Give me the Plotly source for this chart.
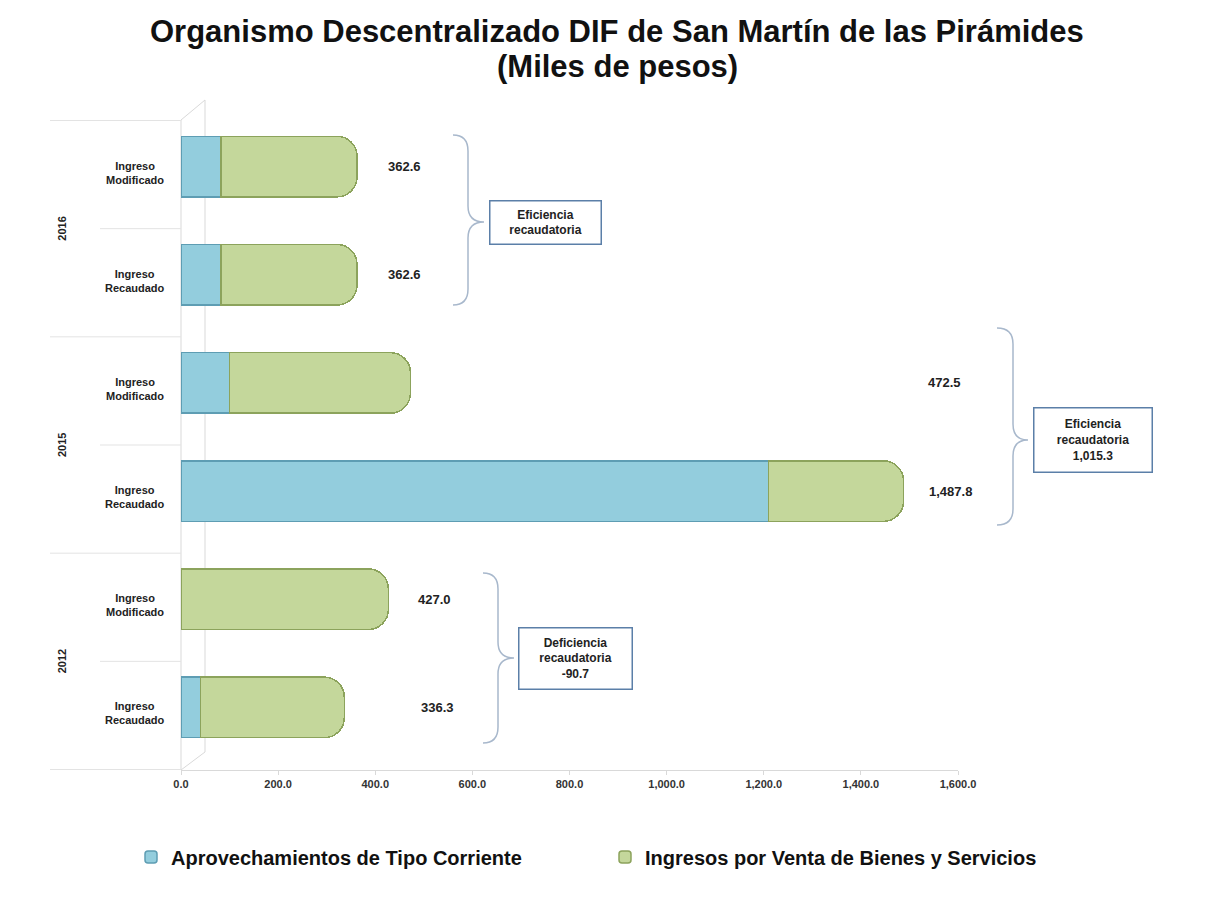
import plotly.graph_objects as go

# ── data ─────────────────────────────────────────────────────────────────────
TITLE = "Organismo Descentralizado DIF de San Martín de las Pirámides"
SUBTITLE = "(Miles de pesos)"

years = ["2016", "2016", "2015", "2015", "2012", "2012"]
ingreso = ["Ingreso Modificado", "Ingreso Recaudado"] * 3
aprovechamientos = [82.0, 82.0, 100.0, 1210.0, 0.0, 40.0]
ventas = [280.6, 280.6, 372.5, 277.8, 427.0, 296.3]
totales = ["362.6", "362.6", "472.5", "1,487.8", "427.0", "336.3"]

group_years = ["2016", "2015", "2012"]
group_text = [
    "Eficiencia<br>recaudatoria",
    "Eficiencia<br>recaudatoria<br>1,015.3",
    "Deficiencia<br>recaudatoria<br>-90.7",
]

x_ticks = [0, 200, 400, 600, 800, 1000, 1200, 1400, 1600]

# ── layout helpers (reference pixel -> paper) ───────────────────────────────
# page body adds an 8px offset, so margins are shifted by that amount
W, H = 1207, 903
OFF = 8
L, R, T, B = 181, 958, 120, 770


def px(x):
    return (x - L) / (R - L)


def py(y):
    return (B - y) / (B - T)


BLUE = "#93CDDD"
BLUE_EDGE = "#5E9DB3"
GREEN = "#C4D79B"
GREEN_EDGE = "#8CA35C"
FONT = "Liberation Sans"
BAR_W = 0.56
LIFT = 0.074  # bars sit a little above the row centre, like the 3d original

cats = [f"{y} {i}" for y, i in zip(years, ingreso)]

fig = go.Figure()
fig.add_trace(go.Bar(
    y=cats, x=aprovechamientos, orientation="h",
    name="Aprovechamientos de Tipo Corriente",
    marker=dict(color=BLUE, line=dict(color=BLUE_EDGE, width=1.5)),
    width=BAR_W, offset=-BAR_W / 2 - LIFT, legend="legend2", showlegend=True,
))
fig.add_trace(go.Bar(
    y=cats, x=ventas, orientation="h",
    name="Ingresos por Venta de Bienes y Servicios",
    marker=dict(color=GREEN, line=dict(color=GREEN_EDGE, width=1.5)),
    width=BAR_W, offset=-BAR_W / 2 - LIFT, legend="legend3", showlegend=True,
))

annotations = []

# title, one annotation per line
for txt, yy in [(TITLE, 32), (SUBTITLE, 66)]:
    annotations.append(dict(
        x=px(617), y=py(yy), xref="paper", yref="paper", xanchor="center", yanchor="middle",
        text=f"<b>{txt}</b>", showarrow=False,
        font=dict(family=FONT, size=31, color="#111"),
    ))

# value labels (positions picked to sit where the original puts them)
label_x = [461, 461, 1573, 1584, 523, 529]
for c, lx, t in zip(cats, label_x, totales):
    annotations.append(dict(
        x=lx, y=c, xref="x", yref="y", yshift=8, text=f"<b>{t}</b>", showarrow=False,
        xanchor="center", font=dict(family=FONT, size=13, color="#222"),
    ))

# category labels and year labels
for c, i in zip(cats, ingreso):
    annotations.append(dict(
        x=px(135), y=c, xref="paper", yref="y", yshift=2,
        text="<b>" + i.replace(" ", "<br>") + "</b>",
        showarrow=False, align="center", xanchor="center",
        font=dict(family=FONT, size=11, color="#222"),
    ))
for k, yr in enumerate(group_years):
    annotations.append(dict(
        x=px(62), y=2 * k + 0.5, xref="paper", yref="y", text=f"<b>{yr}</b>",
        showarrow=False, textangle=-90, xanchor="center",
        font=dict(family=FONT, size=11, color="#222"),
    ))

shapes = []
# separator lines on the category axis
for k in range(7):
    x0 = 50 if k % 2 == 0 else 100
    shapes.append(dict(
        type="line", xref="paper", yref="y", x0=px(x0), x1=0, y0=k - 0.5, y1=k - 0.5,
        line=dict(color="#E3E3E3", width=1),
    ))
# 3d wall lines
wall = [((181, 120), (205, 100)), ((205, 100), (205, 752)), ((181, 770), (205, 752)),
        ((181, 120), (181, 770))]
for (xa, ya), (xb, yb) in wall:
    shapes.append(dict(
        type="line", xref="paper", yref="paper", x0=px(xa), y0=py(ya), x1=px(xb), y1=py(yb),
        line=dict(color="#D9D9D9", width=1), layer="below",
    ))


def brace(x0, x1, xt, yt, ym, yb, r=16):
    pts = [
        f"M {px(x0)},{py(yt)}",
        f"Q {px(x1)},{py(yt)} {px(x1)},{py(yt + r)}",
        f"L {px(x1)},{py(ym - r)}",
        f"Q {px(x1)},{py(ym)} {px(xt)},{py(ym)}",
        f"Q {px(x1)},{py(ym)} {px(x1)},{py(ym + r)}",
        f"L {px(x1)},{py(yb - r)}",
        f"Q {px(x1)},{py(yb)} {px(x0)},{py(yb)}",
    ]
    return " ".join(pts)


braces = [(453, 468, 484, 135, 222, 305), (997, 1013, 1028, 328, 440, 525),
          (483, 498, 514, 573, 658, 743)]
boxes = [(545, 222, 104, 36), (1093, 440, 111, 57), (575, 658, 106, 54)]
for b, (bx, by, bw, bh), txt in zip(braces, boxes, group_text):
    shapes.append(dict(type="path", xref="paper", yref="paper", path=brace(*b),
                       line=dict(color="#A8B8CC", width=1.5)))
    annotations.append(dict(
        x=px(bx), y=py(by), xref="paper", yref="paper", text=f"<b>{txt}</b>",
        showarrow=False, align="center", xanchor="center", yanchor="middle",
        width=bw, height=bh,
        bgcolor="white", bordercolor="#5B7FA8", borderwidth=1.5, borderpad=3,
        font=dict(family=FONT, size=12, color="#222"),
    ))

legend_font = dict(family=FONT, size=20, color="#111", weight="bold")
legend_y = 1 - (857 - OFF) / H

fig.update_layout(
    width=W, height=H,
    showlegend=True,
    barmode="stack",
    barcornerradius=20,
    paper_bgcolor="white", plot_bgcolor="white",
    margin=dict(l=L - OFF, r=W - R + OFF, t=T - OFF, b=H - B + OFF),
    xaxis=dict(
        range=[0, 1600], tickvals=x_ticks, tickformat=",.1f",
        showgrid=False, zeroline=False, showline=True, linecolor="#D9D9D9",
        ticks="outside", ticklen=4, tickcolor="#D9D9D9",
        tickfont=dict(family=FONT, size=11, color="#333", weight="bold"),
    ),
    yaxis=dict(
        categoryorder="array", categoryarray=cats, autorange="reversed",
        showticklabels=False, showgrid=False, zeroline=False, showline=False,
    ),
    legend2=dict(
        orientation="h", xref="container", x=(131 - OFF) / W, xanchor="left",
        yref="container", y=legend_y, yanchor="middle", font=legend_font, visible=True,
    ),
    legend3=dict(
        orientation="h", xref="container", x=(605 - OFF) / W, xanchor="left",
        yref="container", y=legend_y, yanchor="middle", font=legend_font, visible=True,
    ),
    annotations=annotations,
    shapes=shapes,
)

fig.write_html("out.html")
